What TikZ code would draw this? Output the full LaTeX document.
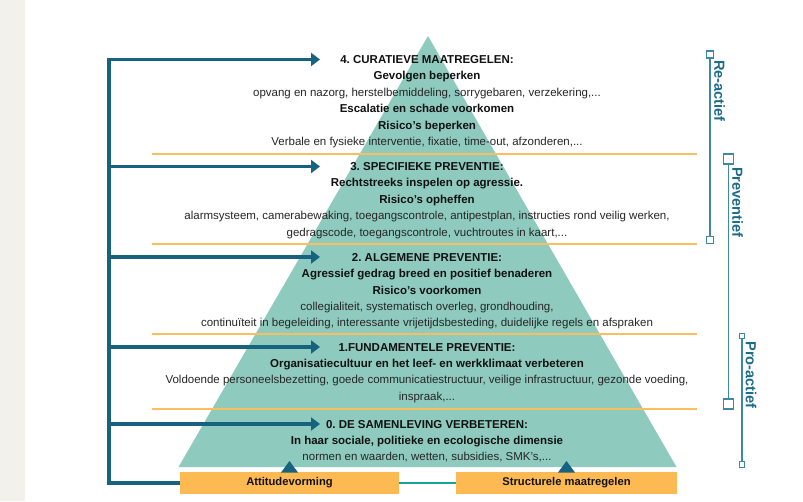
\documentclass[tikz,border=0pt]{standalone}
\usepackage{fontspec}
\setmainfont{Liberation Sans}
\usetikzlibrary{arrows.meta}
\frenchspacing

\definecolor{pyrteal}{HTML}{8ECABE}
\definecolor{navy}{HTML}{17637F}
\definecolor{amber}{HTML}{F9BF5F}
\definecolor{boxamber}{HTML}{FDBA52}
\definecolor{linkteal}{HTML}{17A297}
\definecolor{brk}{HTML}{3D89A3}
\definecolor{brktext}{HTML}{1D6B8A}
\definecolor{strip}{HTML}{F3F1EC}
\definecolor{bodytext}{HTML}{262626}
\definecolor{headtext}{HTML}{111111}

\newcommand{\hd}[1]{{\bfseries\color{headtext}#1}}

\tikzset{
  level/.style={anchor=north, align=center, inner sep=0pt, text=bodytext,
    font=\fontsize{11.5}{16.4}\selectfont},
  arr/.style={draw=navy, line width=3.6pt, -{Triangle[length=9pt,width=13pt]}},
  spine/.style={draw=navy, line width=3.6pt, line join=miter},
  band/.style={draw=amber, line width=2pt},
  basebox/.style={fill=boxamber, draw=none, minimum height=22pt, inner sep=0pt,
    text=headtext, font=\fontsize{11.2}{13}\selectfont\bfseries},
  marker/.style={fill=navy, draw=none},
  sqsmall/.style={draw=brk, fill=white, line width=1.3pt, minimum size=7pt, inner sep=0pt},
  sqbig/.style={draw=brk, fill=white, line width=1.8pt, minimum size=10pt, inner sep=0pt},
  sqtiny/.style={draw=brk, fill=white, line width=1.1pt, minimum size=5.5pt, inner sep=0pt},
  brkline/.style={draw=brk, line width=1.5pt},
  brklabel/.style={rotate=-90, text=brktext, inner sep=0pt,
    font=\fontsize{14.6}{16}\selectfont\bfseries},
}

\begin{document}
\begin{tikzpicture}[x=1pt, y=-1pt]
  % page and side strip
  \fill[white] (0,0) rectangle (803,501);
  \useasboundingbox (0,0) rectangle (803,501);
  \fill[strip] (0,0) rectangle (25,501);

  % pyramid
  \fill[pyrteal] (428,36) -- (676.5,467) -- (178.5,467) -- cycle;

  % separators between the levels
  \draw[band] (152,154) -- (697,154);
  \draw[band] (152,244) -- (697,244);
  \draw[band] (152,334) -- (697,334);
  \draw[band] (152,409) -- (697,409);

  % level texts
  \node[level] (lvl4) at (427,55.3) {\hd{4. CURATIEVE MAATREGELEN:}\\
    \hd{Gevolgen beperken}\\
    opvang en nazorg, herstelbemiddeling, sorrygebaren, verzekering,...\\
    \hd{Escalatie en schade voorkomen}\\
    \hd{Risico's beperken}\\
    Verbale en fysieke interventie, fixatie, time-out, afzonderen,...};

  \node[level] (lvl3) at (427,162.3) {\hd{3. SPECIFIEKE PREVENTIE:}\\
    \hd{Rechtstreeks inspelen op agressie.}\\
    \hd{Risico's opheffen}\\
    alarmsysteem, camerabewaking, toegangscontrole, antipestplan, instructies rond veilig werken,\\
    gedragscode, toegangscontrole, vuchtroutes in kaart,...};

  \node[level] (lvl2) at (427,253) {\hd{2. ALGEMENE PREVENTIE:}\\
    \hd{Agressief gedrag breed en positief benaderen}\\
    \hd{Risico's voorkomen}\\
    collegialiteit, systematisch overleg, grondhouding,\\
    continuïteit in begeleiding, interessante vrijetijdsbesteding, duidelijke regels en afspraken};

  \node[level] (lvl1) at (427,343) {\hd{1.FUNDAMENTELE PREVENTIE:}\\
    \hd{Organisatiecultuur en het leef- en werkklimaat verbeteren}\\
    Voldoende personeelsbezetting, goede communicatiestructuur, veilige infrastructuur, gezonde voeding,\\
    inspraak,...};

  \node[level] (lvl0) at (427,419.8) {\hd{0. DE SAMENLEVING VERBETEREN:}\\
    \hd{In haar sociale, politieke en ecologische dimensie}\\
    normen en waarden, wetten, subsidies, SMK's,...};

  % base boxes
  \node[basebox, minimum width=219pt] (att) at (289.5,483) {Attitudevorming};
  \node[basebox, minimum width=221pt] (str) at (566.5,483) {Structurele maatregelen};
  \draw[linkteal, line width=2.2pt] (att.east) -- (str.west);

  % markers on the boxes
  \fill[marker] (281,472.5) -- (298,472.5) -- (289.5,461) -- cycle;
  \fill[marker] (558,472.5) -- (575,472.5) -- (566.5,461) -- cycle;

  % spine with arrows to each level
  \coordinate (sp4) at (108.7,59.5);
  \coordinate (sp3) at (108.7,166.5);
  \coordinate (sp2) at (108.7,257);
  \coordinate (sp1) at (108.7,347);
  \coordinate (sp0) at (108.7,424);
  \coordinate (spb) at (108.7,483);
  \coordinate (tp4) at (320,59.5);
  \coordinate (tp3) at (320,166.5);
  \coordinate (tp2) at (320,257);
  \coordinate (tp1) at (320,347);
  \coordinate (tp0) at (320,424);
  \draw[spine] ([xshift=-1.8pt]sp4) -- (sp4) -- (spb) -- (att.west);
  \draw[arr] (sp4) -- (tp4);
  \draw[arr] (sp3) -- (tp3);
  \draw[arr] (sp2) -- (tp2);
  \draw[arr] (sp1) -- (tp1);
  \draw[arr] (sp0) -- (tp0);

  % brackets on the right
  \node[sqsmall] (ra1) at (710,54.5) {};
  \node[sqsmall] (ra2) at (710,240) {};
  \draw[brkline] (ra1) -- (ra2);
  \node[brklabel] (ralbl) at (719.5,91) {Re-actief};

  \node[sqbig] (pv1) at (728.5,159) {};
  \node[sqbig] (pv2) at (728.5,404) {};
  \draw[brkline] (pv1) -- (pv2);
  \node[brklabel] (pvlbl) at (737.5,202.5) {Preventief};

  \node[sqtiny] (pa1) at (742,336) {};
  \node[sqtiny] (pa2) at (742,464.5) {};
  \draw[brkline, line width=1.2pt] (pa1) -- (pa2);
  \node[brklabel] (palbl) at (751,375) {Pro-actief};
\end{tikzpicture}
\end{document}
